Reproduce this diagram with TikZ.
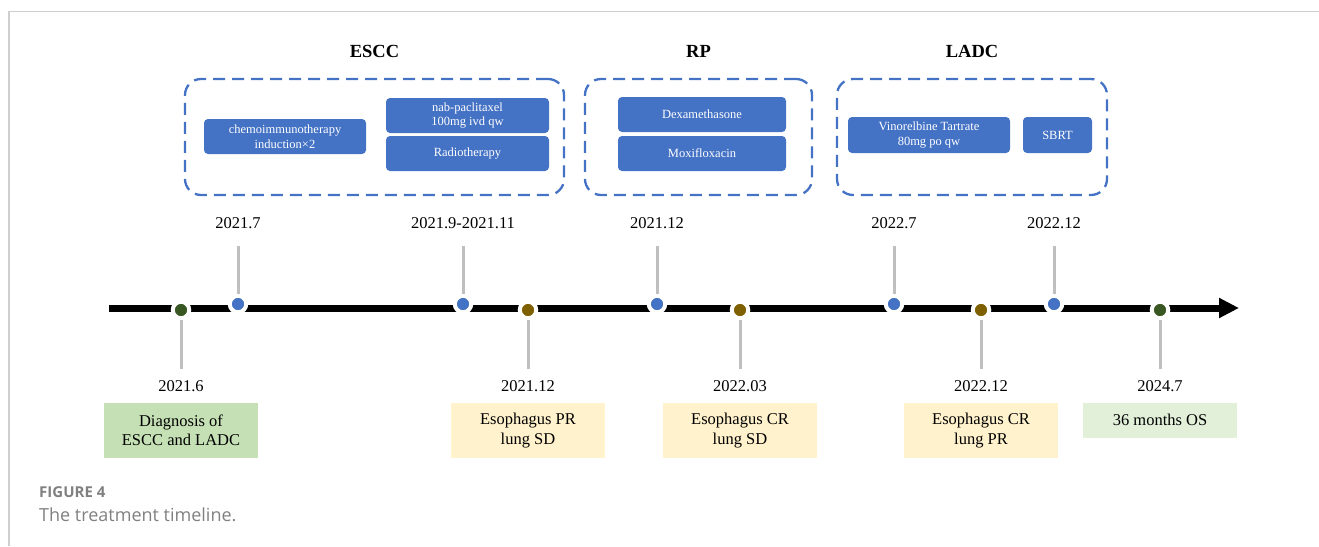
\documentclass[tikz,border=0pt]{standalone}
\usepackage{fontspec}
\setmainfont{Liberation Serif}
\newfontfamily\capfont{Open Sans}
\usetikzlibrary{arrows.meta,positioning}
\definecolor{boxblue}{HTML}{4472C4}
\definecolor{stemgray}{HTML}{BFBFBF}
\definecolor{dotgreen}{HTML}{385723}
\definecolor{dotbrown}{HTML}{7F6000}
\definecolor{resyellow}{HTML}{FFF2CC}
\definecolor{diaggreen}{HTML}{C5E0B4}
\definecolor{osgreen}{HTML}{E2EFD9}
\definecolor{framegray}{HTML}{CFCFCF}
\definecolor{capgray}{HTML}{808080}
% event above the axis: name, x, date
\newcommand\upevent[3]{\node(#1)[dot,fill=boxblue] at (#2,304){};
  \coordinate(#1t) at (#2,246); \draw[stem](#1t)--(#1);
  \node[date,above=17pt of #1t]{#3};}
% event below the axis: name, x, colour, date
\newcommand\downevent[4]{\node(#1)[dot,fill=#3] at (#2,310){};
  \coordinate(#1b) at (#2,369); \draw[stem](#1)--(#1b);
  \node(#1l)[date,below=11pt of #1b]{#4};}

\begin{document}
\begin{tikzpicture}[x=1pt,y=-1pt,
    drug/.style={fill=boxblue,rounded corners=4pt,text=white,inner sep=0pt,
        font=\fontsize{12.5}{14.5}\selectfont,align=center},
    group/.style={draw=boxblue,dash pattern=on 12pt off 7pt,line width=2.3pt,
        rounded corners=16pt,inner sep=0pt},
    title/.style={font=\fontsize{18.5}{22}\selectfont\bfseries,inner sep=0pt},
    date/.style={font=\fontsize{16.5}{20}\selectfont,inner sep=0pt},
    result/.style={font=\fontsize{16.5}{19.5}\selectfont,align=center,inner sep=0pt,
        minimum width=154pt},
    dot/.style={circle,draw=white,line width=4pt,minimum size=16.5pt,inner sep=0pt},
    stem/.style={draw=stemgray,line width=3pt},
    axis/.style={line width=7pt,-{Triangle[length=20pt,width=19pt]}}]
\useasboundingbox (0,0) rectangle (1319,546);
% frame of the figure
\draw[framegray,line width=1.5pt] (9,546)--(9,11.5)--(1319,11.5);

% treatment groups
\node(escc)[group,minimum width=379pt,minimum height=116pt] at (374.5,137){};
\node(rp)[group,minimum width=227pt,minimum height=116pt] at (698.5,137){};
\node(ladc)[group,minimum width=270pt,minimum height=116pt] at (972,137){};
\node[title,above=20pt of escc]{ESCC};
\node[title,above=20pt of rp]{RP};
\node[title,above=20pt of ladc]{LADC};

\node(chemo)[drug,minimum width=162pt,minimum height=35pt] at (285,136.5){chemoimmunotherapy\\induction×2};
\node(nab)[drug,minimum width=163pt,minimum height=35pt] at (467.5,115.5){nab-paclitaxel\\100mg ivd qw};
\node(radio)[drug,minimum width=163pt,minimum height=35pt] at (467.5,153.5){Radiotherapy};
\node(dexa)[drug,minimum width=168pt,minimum height=35pt] at (702,114.5){Dexamethasone};
\node(moxi)[drug,minimum width=168pt,minimum height=35pt] at (702,153.5){Moxifloxacin};
\node(vino)[drug,minimum width=162pt,minimum height=36pt] at (929,135){Vinorelbine Tartrate\\80mg po qw};
\node(sbrt)[drug,minimum width=69pt,minimum height=36pt] at (1057.5,135){SBRT};

% timeline
\coordinate(start) at (109,308);
\coordinate(end) at (1239,308);
\draw[axis] (start)--(end);

\downevent{e1}{181}{dotgreen}{2021.6}
\upevent{e2}{238}{2021.7}
\upevent{e3}{463}{2021.9-2021.11}
\downevent{e4}{528}{dotbrown}{2021.12}
\upevent{e5}{657}{2021.12}
\downevent{e6}{740}{dotbrown}{2022.03}
\upevent{e7}{894}{2022.7}
\downevent{e8}{981}{dotbrown}{2022.12}
\upevent{e9}{1054}{2022.12}
\downevent{e10}{1160}{dotgreen}{2024.7}

% outcomes
\node[result,fill=diaggreen,minimum height=55pt,below=11pt of e1l]{Diagnosis of\\ESCC and LADC};
\node[result,fill=resyellow,minimum height=55pt,below=11pt of e4l]{Esophagus PR\\lung SD};
\node[result,fill=resyellow,minimum height=55pt,below=11pt of e6l]{Esophagus CR\\lung SD};
\node[result,fill=resyellow,minimum height=55pt,below=11pt of e8l]{Esophagus CR\\lung PR};
\node[result,fill=osgreen,minimum height=35pt,below=11pt of e10l]{36 months OS};

% caption
\node(fig)[anchor=west,inner sep=0pt,text=capgray,font=\capfont\bfseries\fontsize{15}{18}\selectfont] at (39,492){FIGURE 4};
\node(cap)[anchor=west,inner sep=0pt,text=capgray,font=\capfont\fontsize{18}{21}\selectfont] at (39,515){The treatment timeline.};
\end{tikzpicture}
\end{document}
